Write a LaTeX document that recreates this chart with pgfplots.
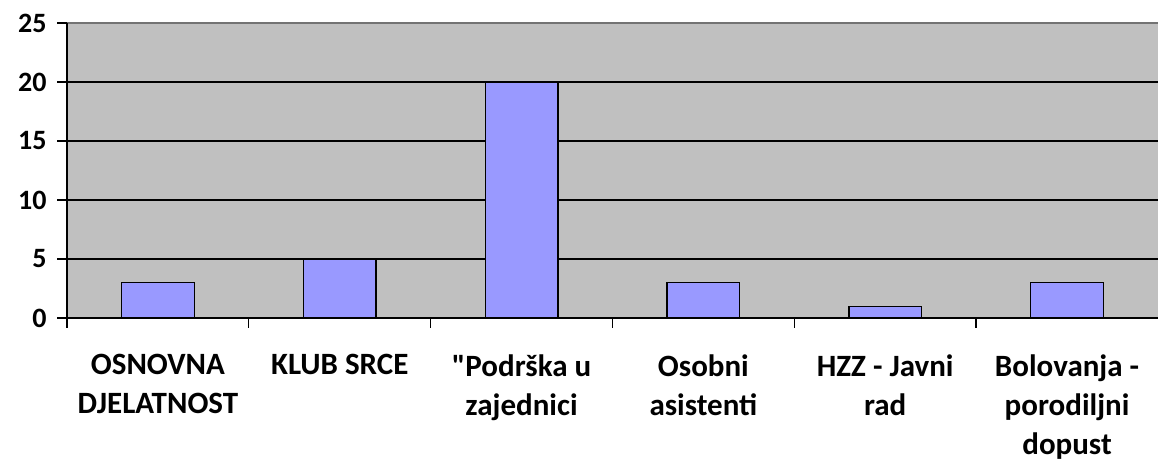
\documentclass[border=0pt]{standalone}
\usepackage{pgfplots}
\pgfplotsset{compat=1.18}
\usepackage{fontspec}
\setmainfont{Carlito}[Ligatures=TeXOff]
\definecolor{plotbg}{HTML}{C0C0C0}
\definecolor{barfill}{HTML}{9999FF}
\begin{document}
\begin{tikzpicture}
\begin{axis}[
  scale only axis,
  width=1091pt, height=295pt,
  xmin=-0.5, xmax=5.5, ymin=0, ymax=25,
  axis background/.style={fill=plotbg},
  axis line style={draw=none},
  ytick={0,5,10,15,20,25},
  ymajorgrids,
  major grid style={black, line width=1.3pt},
  major tick length=0pt,
  xtick={0,1,2,3,4,5},
  xticklabels={{OSNOVNA\\DJELATNOST},{KLUB SRCE},{"Podrška u\\zajednici},{Osobni\\asistenti},{HZZ - Javni\\rad},{Bolovanja -\\porodiljni\\dopust}},
  xticklabel style={font=\fontsize{31}{39}\selectfont\bfseries, align=center, yshift=-33pt},
  yticklabel style={font=\fontsize{28}{32}\selectfont\bfseries, xshift=-17pt},
  /pgf/number format/assume math mode=true,
  clip=false,
]
\addplot[ybar, bar width=0.4, fill=barfill, draw=black, line width=1.3pt] coordinates {(0,3) (1,5) (2,20) (3,3) (4,1) (5,3)};
\draw[gray!90!black, line width=1.3pt] (rel axis cs:0,1) -- (rel axis cs:1,1);
\draw[black, line width=1.3pt] (rel axis cs:0,1) -- (rel axis cs:0,0) -- (rel axis cs:1,0);
\pgfplotsinvokeforeach{0,5,10,15,20,25}{
  \draw[black, line width=1.3pt] (axis cs:-0.5,#1) -- ([xshift=-10pt]axis cs:-0.5,#1);
}
\pgfplotsinvokeforeach{-0.5,0.5,1.5,2.5,3.5,4.5}{
  \draw[black, line width=1.3pt] (axis cs:#1,0) -- ([yshift=-10pt]axis cs:#1,0);
}
\coordinate (o) at (rel axis cs:0,0);
\end{axis}
\pgfresetboundingbox
\path (o) ++(-67pt,-143pt) rectangle ++(1158pt,461pt);
\end{tikzpicture}
\end{document}
